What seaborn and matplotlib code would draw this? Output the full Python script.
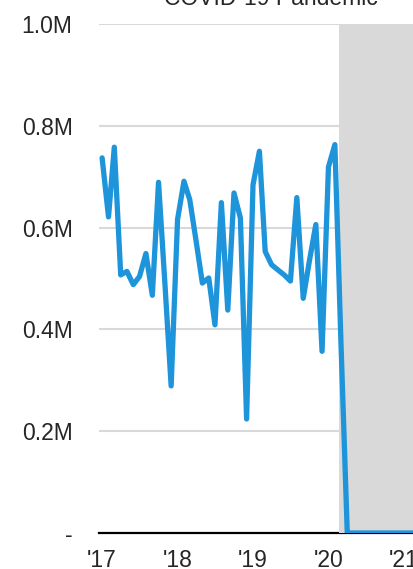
import matplotlib
matplotlib.use("Agg")
import matplotlib.pyplot as plt
from matplotlib.ticker import FuncFormatter
import pandas as pd
import seaborn as sns

# monthly values, Jan 2017 onward (millions)
values_2017 = [0.737, 0.621, 0.758, 0.507, 0.514, 0.488, 0.504, 0.549, 0.467, 0.689, 0.489, 0.289]
values_2018 = [0.616, 0.691, 0.655, 0.573, 0.491, 0.501, 0.409, 0.649, 0.438, 0.668, 0.619, 0.224]
values_2019 = [0.684, 0.750, 0.553, 0.527, 0.517, 0.507, 0.495, 0.659, 0.461, 0.535, 0.606, 0.357]
values_2020 = [0.719, 0.763, 0.380, 0, 0, 0, 0, 0, 0, 0, 0, 0]
values_2021 = [0, 0, 0, 0, 0, 0]

year_labels = ["'17", "'18", "'19", "'20", "'21"]
y_ticks = [0, 200000, 400000, 600000, 800000, 1000000]
pandemic_start = "2020-02-20"
annotation = "COVID-19 Pandemic"

values = values_2017 + values_2018 + values_2019 + values_2020 + values_2021
df = pd.DataFrame({
    "month": pd.date_range("2017-01-01", periods=len(values), freq="MS"),
    "value": [v * 1e6 for v in values],
})

sns.set_style("white")
plt.rcParams["font.family"] = ["Liberation Sans", "DejaVu Sans"]

fig = plt.figure(figsize=(4.13, 5.69), dpi=100)
ax = fig.add_axes([99 / 413, 36 / 569, 1 - 99 / 413, 509 / 569])

# shaded pandemic period
ax.axvspan(pd.Timestamp(pandemic_start), pd.Timestamp("2023-01-01"),
           color="#d9d9d9", lw=0, zorder=2.6)

sns.lineplot(data=df, x="month", y="value", ax=ax, color="#1e94db",
             linewidth=3.8, zorder=3, solid_joinstyle="round",
             solid_capstyle="round")

ax.set_xlim(pd.Timestamp("2016-12-17"), pd.Timestamp("2021-02-13"))
ax.set_ylim(0, 1000000)
ax.set_yticks(y_ticks)
ax.yaxis.set_major_formatter(
    FuncFormatter(lambda v, p: "-" if v == 0 else f"{v / 1e6:.1f}M"))
ax.set_xticks([pd.Timestamp(f"20{y[1:]}-01-01") for y in year_labels])
ax.set_xticklabels(year_labels)

ax.grid(axis="y", color="#d9d9d9", linewidth=1.5, zorder=0)
ax.set_axisbelow(True)
for side in ["top", "left", "right"]:
    ax.spines[side].set_visible(False)
ax.spines["bottom"].set_color("black")
ax.spines["bottom"].set_linewidth(1.6)

ax.tick_params(axis="y", length=0, pad=19, labelsize=16.5)
ax.tick_params(axis="x", length=0, pad=11.5, labelsize=16.5)
ax.set_xlabel("")
ax.set_ylabel("")

fig.text(271 / 413, 1 - 5 / 569, annotation, ha="center", va="baseline",
         fontsize=16.5)

plt.savefig("out.png", dpi=100)
